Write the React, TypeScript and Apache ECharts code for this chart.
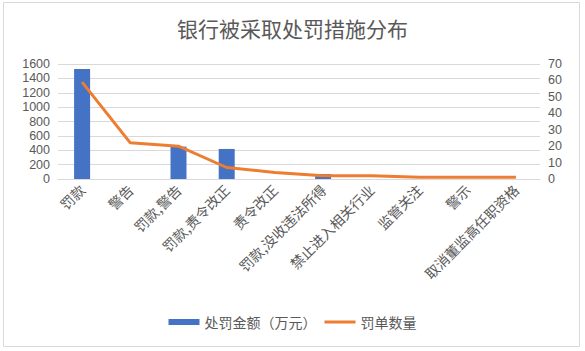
import React, { useEffect, useRef } from "react";
import * as echarts from "echarts";

const categories = [
  "罚款",
  "警告",
  "罚款,警告",
  "罚款,责令改正",
  "责令改正",
  "罚款,没收违法所得",
  "禁止进入相关行业",
  "监管关注",
  "警示",
  "取消董监高任职资格",
];
const amountValues = [1530, 0, 450, 418, 0, 70, 0, 0, 0, 0];
const countValues = [59, 22, 20, 7, 4, 2, 2, 1, 1, 1];
const leftTicks = { min: 0, max: 1600, interval: 200 };
const rightTicks = { min: 0, max: 70, interval: 10 };

const FONT = "'Noto Sans CJK SC', 'Noto Sans', sans-serif";
const NUMFONT = "'Liberation Sans', Arial, sans-serif";
const TXT = "#595959";

export default function App() {
  const ref = useRef<HTMLDivElement>(null);
  useEffect(() => {
    if (!ref.current) return;
    const chart = echarts.init(ref.current, undefined, { renderer: "svg" });
    chart.setOption({
      animation: false,
      backgroundColor: "#fff",
      textStyle: { fontFamily: FONT },
      title: {
        text: "银行被采取处罚措施分布",
        left: "center",
        top: 12,
        textStyle: { fontSize: 21, fontWeight: "normal", color: TXT, fontFamily: FONT },
      },
      graphic: [
        {
          type: "rect",
          shape: { x: 3.5, y: 2.5, width: 576, height: 344 },
          style: { fill: "none", stroke: "#d9d9d9", lineWidth: 1 },
          silent: true,
        },
      ],
      legend: {
        bottom: 17,
        left: "center",
        itemWidth: 31,
        itemHeight: 6,
        itemGap: 8,
        textStyle: { fontSize: 14, color: TXT, fontFamily: FONT },
        data: [
          { name: "处罚金额（万元）", icon: "rect" },
          { name: "罚单数量", icon: "path://M0,0 L31,0 L31,3 L0,3 Z" },
        ],
      },
      grid: { left: 58, right: 45, top: 64, bottom: 172 },
      xAxis: {
        type: "category",
        data: categories,
        axisTick: { show: false },
        axisLine: { show: true, lineStyle: { color: "#d9d9d9" } },
        axisLabel: {
          rotate: 45,
          interval: 0,
          fontSize: 14,
          color: TXT,
          fontFamily: FONT,
          margin: 8,
        },
      },
      yAxis: [
        {
          type: "value",
          ...leftTicks,
          axisLine: { show: false },
          axisTick: { show: false },
          splitLine: { lineStyle: { color: "#d9d9d9" } },
          axisLabel: {
            fontSize: 12.5,
            lineHeight: 12,
            color: TXT,
            fontFamily: NUMFONT,
            margin: 8,
            formatter: (v: number) => String(v),
          },
        },
        {
          type: "value",
          ...rightTicks,
          axisLine: { show: false },
          axisTick: { show: false },
          splitLine: { show: false },
          axisLabel: {
            fontSize: 12.5,
            lineHeight: 12,
            color: TXT,
            fontFamily: NUMFONT,
            margin: 8,
            formatter: (v: number) => String(v),
          },
        },
      ],
      series: [
        {
          name: "处罚金额（万元）",
          type: "bar",
          data: amountValues,
          barWidth: 16,
          itemStyle: { color: "#4472C4" },
          yAxisIndex: 0,
        },
        {
          name: "罚单数量",
          type: "line",
          data: countValues,
          yAxisIndex: 1,
          symbol: "none",
          lineStyle: { color: "#ED7D31", width: 3 },
          itemStyle: { color: "#ED7D31" },
        },
      ],
    });
    return () => chart.dispose();
  }, []);
  return (
    <div
      ref={ref}
      style={{ position: "fixed", left: 0, top: 0, width: 585, height: 351 }}
    />
  );
}
